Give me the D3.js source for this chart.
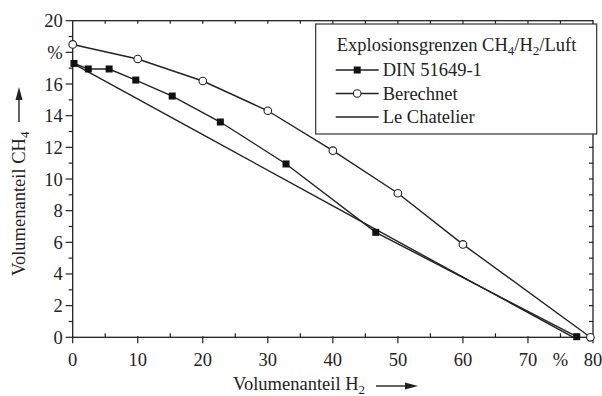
<!DOCTYPE html>
<html>
<head>
<meta charset="utf-8">
<script src="https://cdn.jsdelivr.net/npm/d3@7"></script>
<style>
  body { margin: 0; background: #fff; }
  svg { display: block; font-family: "Liberation Serif", "Times New Roman", serif; }
  .frame { stroke: #222; stroke-width: 1.3; fill: none; }
  .series { fill: none; stroke: #222; stroke-width: 1.4; }
  text { fill: #222; }
</style>
</head>
<body>
<svg id="root"></svg>
<script>
// DIN 51649-1 measured points [H2 %, CH4 %]
const dinPoints = [
  [0.2, 17.3], [2.4, 16.95], [5.6, 16.95], [9.7, 16.25], [15.3, 15.24],
  [22.7, 13.6], [32.8, 10.95], [46.6, 6.63], [77.5, 0.04]
];
// berechnet
const calcPoints = [
  [0, 18.5], [10, 17.58], [20, 16.19], [30, 14.31], [40, 11.79],
  [50, 9.1], [60, 5.87], [79.6, 0]
];
// Le Chatelier
const chatelierPoints = [
  [0, 17.3], [20, 12.8], [40, 8.3], [60, 3.8], [77, 0]
];

const xTicks = [0, 10, 20, 30, 40, 50, 60, 70, 75, 80];
const xTickLabels = ["0", "10", "20", "30", "40", "50", "60", "70", "%", "80"];
const yTicks = [0, 2, 4, 6, 8, 10, 12, 14, 16, 18, 20];
const yTickLabels = ["0", "2", "4", "6", "8", "10", "12", "14", "16", "%", "20"];

const legendItems = ["DIN 51649-1", "Berechnet", "Le Chatelier"];

(function () {
  let width = 602, height = 396;
  let margin = { left: 72.7, right: 9, top: 20.7, bottom: 58.7 };

  let svg = d3.select("#root")
    .attr("width", width)
    .attr("height", height);

  let x = d3.scaleLinear().domain([0, 80]).range([margin.left, width - margin.right]);
  let y = d3.scaleLinear().domain([0, 20]).range([height - margin.bottom, margin.top]);

  let fontSize = 18.5;
  let subSize = 13;

  // frame
  svg.append("rect")
    .attr("class", "frame")
    .attr("x", x(0))
    .attr("y", y(20))
    .attr("width", x(80) - x(0))
    .attr("height", y(0) - y(20));

  // bottom axis: major ticks out, minor ticks in
  let bottom = svg.append("g").attr("transform", `translate(0,${y(0)})`);
  bottom.selectAll(".major")
    .data(d3.range(0, 81, 10))
    .enter().append("line")
    .attr("x1", d => x(d)).attr("x2", d => x(d))
    .attr("y1", -1).attr("y2", 6)
    .attr("stroke", "#222").attr("stroke-width", 1.2);
  bottom.selectAll(".minor")
    .data(d3.range(5, 80, 10))
    .enter().append("line")
    .attr("x1", d => x(d)).attr("x2", d => x(d))
    .attr("y1", -4).attr("y2", 0)
    .attr("stroke", "#222").attr("stroke-width", 1.2);
  bottom.selectAll("text")
    .data(xTicks)
    .enter().append("text")
    .attr("x", d => x(d))
    .attr("y", 28.5)
    .attr("text-anchor", "middle")
    .attr("font-size", fontSize)
    .text((d, i) => xTickLabels[i]);

  // top axis ticks (inward)
  svg.selectAll(".topTick")
    .data(d3.range(5, 80, 5))
    .enter().append("line")
    .attr("x1", d => x(d)).attr("x2", d => x(d))
    .attr("y1", y(20)).attr("y2", y(20) + 3)
    .attr("stroke", "#222").attr("stroke-width", 1.2);

  // left axis: major and minor ticks outward
  let left = svg.append("g").attr("transform", `translate(${x(0)},0)`);
  left.selectAll(".lt")
    .data(d3.range(0, 21, 1))
    .enter().append("line")
    .attr("x1", d => d % 2 === 0 ? -7 : -4).attr("x2", 0)
    .attr("y1", d => y(d)).attr("y2", d => y(d))
    .attr("stroke", "#222").attr("stroke-width", 1.2);
  left.selectAll("text")
    .data(yTicks)
    .enter().append("text")
    .attr("x", -10)
    .attr("y", d => y(d) + 6.5)
    .attr("text-anchor", "end")
    .attr("font-size", fontSize)
    .text((d, i) => yTickLabels[i]);

  // right axis ticks (inward)
  svg.selectAll(".rightTick")
    .data(d3.range(1, 20, 1))
    .enter().append("line")
    .attr("x1", x(80) - 4).attr("x2", x(80))
    .attr("y1", d => y(d)).attr("y2", d => y(d))
    .attr("stroke", "#222").attr("stroke-width", 1.2);

  let line = d3.line()
    .x(d => x(d[0]))
    .y(d => y(d[1]));

  svg.append("path").datum(chatelierPoints).attr("class", "series").attr("d", line);
  svg.append("path").datum(calcPoints).attr("class", "series").attr("d", line);
  svg.append("path").datum(dinPoints).attr("class", "series").attr("d", line);

  let sq = 7;
  svg.selectAll(".din")
    .data(dinPoints)
    .enter().append("rect")
    .attr("x", d => x(d[0]) - sq / 2)
    .attr("y", d => y(d[1]) - sq / 2)
    .attr("width", sq).attr("height", sq)
    .attr("fill", "#111");

  svg.selectAll(".calc")
    .data(calcPoints)
    .enter().append("circle")
    .attr("cx", d => x(d[0]))
    .attr("cy", d => y(d[1]))
    .attr("r", 3.8)
    .attr("fill", "#fff")
    .attr("stroke", "#222")
    .attr("stroke-width", 1.1);

  // legend
  let lg = svg.append("g").attr("transform", "translate(315.7,24)");
  lg.append("rect")
    .attr("width", 281)
    .attr("height", 110)
    .attr("fill", "#fff")
    .attr("stroke", "#222")
    .attr("stroke-width", 1.1);

  let title = lg.append("text")
    .attr("x", 21)
    .attr("y", 27)
    .attr("font-size", fontSize);
  title.append("tspan").text("Explosionsgrenzen CH");
  title.append("tspan").attr("dy", 4).attr("font-size", subSize).text("4");
  title.append("tspan").attr("dy", -4).text("/H");
  title.append("tspan").attr("dy", 4).attr("font-size", subSize).text("2");
  title.append("tspan").attr("dy", -4).text("/Luft");

  let rows = lg.selectAll(".row")
    .data(legendItems)
    .enter().append("g")
    .attr("transform", (d, i) => `translate(0,${52 + i * 23.5})`);

  rows.append("line")
    .attr("x1", 20).attr("x2", 63)
    .attr("y1", -6).attr("y2", -6)
    .attr("stroke", "#222").attr("stroke-width", 1.4);
  rows.append("text")
    .attr("x", 67)
    .attr("y", 0)
    .attr("font-size", fontSize)
    .text(d => d);

  rows.filter((d, i) => i === 0).append("rect")
    .attr("x", 41.5 - sq / 2).attr("y", -6 - sq / 2)
    .attr("width", sq).attr("height", sq)
    .attr("fill", "#111");
  rows.filter((d, i) => i === 1).append("circle")
    .attr("cx", 41.5).attr("cy", -6).attr("r", 3.8)
    .attr("fill", "#fff").attr("stroke", "#222").attr("stroke-width", 1.1);

  // axis titles with arrows
  let xt = svg.append("text")
    .attr("x", 233)
    .attr("y", 390)
    .attr("font-size", fontSize);
  xt.append("tspan").text("Volumenanteil H");
  xt.append("tspan").attr("dy", 4).attr("font-size", subSize).text("2");

  svg.append("line")
    .attr("x1", 376).attr("x2", 408)
    .attr("y1", 386).attr("y2", 386)
    .attr("stroke", "#222").attr("stroke-width", 1.4);
  svg.append("path")
    .attr("d", "M405,382.5 L418,386 L405,389.5 Z")
    .attr("fill", "#222");

  let yt = svg.append("text")
    .attr("transform", "translate(25,276) rotate(-90)")
    .attr("font-size", fontSize);
  yt.append("tspan").text("Volumenanteil CH");
  yt.append("tspan").attr("dy", 4).attr("font-size", subSize).text("4");

  svg.append("line")
    .attr("x1", 19).attr("x2", 19)
    .attr("y1", 122).attr("y2", 96)
    .attr("stroke", "#222").attr("stroke-width", 1.4);
  svg.append("path")
    .attr("d", "M15.5,100 L19,87 L22.5,100 Z")
    .attr("fill", "#222");
})();
</script>
</body>
</html>
